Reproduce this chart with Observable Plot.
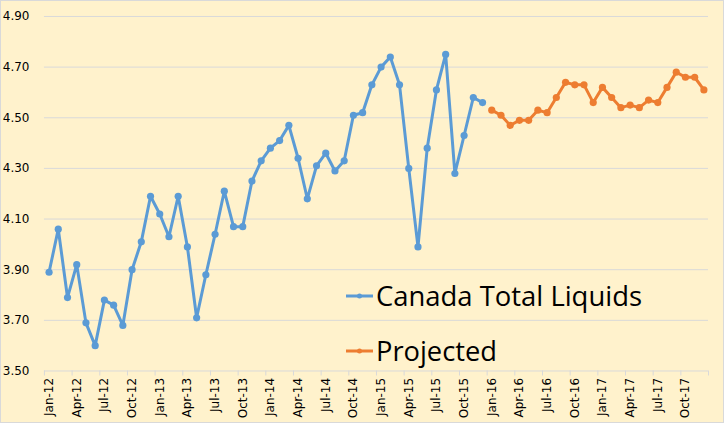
<!DOCTYPE html>
<html>
<head>
<meta charset="utf-8">
<script src="https://cdn.jsdelivr.net/npm/d3@7"></script>
<script src="https://cdn.jsdelivr.net/npm/@observablehq/plot@0.6"></script>
<style>
  html, body { margin: 0; padding: 0; background: #fff; }
  #wrap { position: relative; width: 724px; height: 423px; background: #FFF2CC; box-sizing: border-box; border: 1px solid #D9D9D9; overflow: hidden; }
  #chart { position: absolute; left: -1px; top: -1px; }
  #legend { position: absolute; left: -1px; top: -1px; pointer-events: none; }
</style>
</head>
<body>
<div id="wrap"><div id="chart"></div><svg id="legend" width="724" height="423"></svg></div>
<script>
// Month labels (one per month, Jan-12 .. Dec-17)
const monthNames = ["Jan","Feb","Mar","Apr","May","Jun","Jul","Aug","Sep","Oct","Nov","Dec"];
const years = ["12","13","14","15","16","17"];
// Tick labels shown on the axis (every third month)
const tickLabels = ["Jan-12","Apr-12","Jul-12","Oct-12","Jan-13","Apr-13","Jul-13","Oct-13",
  "Jan-14","Apr-14","Jul-14","Oct-14","Jan-15","Apr-15","Jul-15","Oct-15",
  "Jan-16","Apr-16","Jul-16","Oct-16","Jan-17","Apr-17","Jul-17","Oct-17"];
const yTicks = [3.5, 3.7, 3.9, 4.1, 4.3, 4.5, 4.7, 4.9];

// Canada Total Liquids (Jan-12 .. Dec-15), million b/d
const canada = [3.89, 4.06, 3.79, 3.92, 3.69, 3.60, 3.78, 3.76, 3.68, 3.90, 4.01, 4.19,
  4.12, 4.03, 4.19, 3.99, 3.71, 3.88, 4.04, 4.21, 4.07, 4.07, 4.25, 4.33,
  4.38, 4.41, 4.47, 4.34, 4.18, 4.31, 4.36, 4.29, 4.33, 4.51, 4.52, 4.63,
  4.70, 4.74, 4.63, 4.30, 3.99, 4.38, 4.61, 4.75, 4.28, 4.43, 4.58, 4.56];
// Projected (Jan-16 .. Dec-17)
const projected = [4.53, 4.51, 4.47, 4.49, 4.49, 4.53, 4.52, 4.58, 4.64, 4.63, 4.63, 4.56,
  4.62, 4.58, 4.54, 4.55, 4.54, 4.57, 4.56, 4.62, 4.68, 4.66, 4.66, 4.61];

const months = [];
years.forEach(y => monthNames.forEach(m => months.push(`${m}-${y}`)));

const canadaData = canada.map((v, i) => ({i: i + 0.5, label: months[i], v}));
const projData = projected.map((v, i) => ({i: canada.length + i + 0.5, label: months[canada.length + i], v}));
const tickData = tickLabels.map(l => ({i: months.indexOf(l) + 0.5, l}));
const boundaries = d3.range(0, months.length + 1, 3);

const blue = "#5B9BD5", orange = "#ED7D31", grid = "#D9D9D9";

const chart = Plot.plot({
  width: 724,
  height: 423,
  marginLeft: 44,
  marginRight: 15,
  marginTop: 16,
  marginBottom: 52,
  style: {background: "transparent", fontFamily: "DejaVu Sans, Verdana, sans-serif", fontSize: "12px", color: "#000"},
  x: {type: "linear", domain: [0, months.length]},
  y: {type: "linear", domain: [3.5, 4.9]},
  marks: [
    Plot.ruleY(yTicks, {stroke: grid, strokeWidth: 1, strokeOpacity: 1}),
    Plot.axisY({ticks: yTicks, tickFormat: d3.format(".2f"), tickSize: 0, tickPadding: 15, anchor: "left", fontSize: 12, fill: "#000", label: null}),
    Plot.axisX({ticks: boundaries, tickFormat: () => "", tickSize: 5, stroke: grid, strokeOpacity: 1, label: null, anchor: "bottom"}),
    Plot.text(tickData, {x: "i", y: () => 3.5, text: "l", rotate: -90, textAnchor: "end", dx: 0, dy: 7, fontSize: 12, fill: "#000"}),
    Plot.line(canadaData, {x: "i", y: "v", stroke: blue, strokeWidth: 3}),
    Plot.dot(canadaData, {x: "i", y: "v", fill: blue, r: 3.6}),
    Plot.line(projData, {x: "i", y: "v", stroke: orange, strokeWidth: 3}),
    Plot.dot(projData, {x: "i", y: "v", fill: orange, r: 3.6})
  ]
});
document.getElementById("chart").appendChild(chart);

// Legend
const legendItems = [
  {name: "Canada Total Liquids", color: blue, width: 266},
  {name: "Projected", color: orange, width: 121}
];
const lg = d3.select("#legend");
legendItems.forEach((d, k) => {
  const cy = 296 + k * 55;
  lg.append("line").attr("x1", 346).attr("x2", 373).attr("y1", cy).attr("y2", cy)
    .attr("stroke", d.color).attr("stroke-width", 3);
  lg.append("circle").attr("cx", 359.5).attr("cy", cy).attr("r", 2.5).attr("fill", d.color);
  lg.append("text").attr("x", 376).attr("y", cy + 10)
    .attr("font-family", "Open Sans, Liberation Sans, sans-serif").attr("font-size", 28)
    .attr("textLength", d.width).attr("lengthAdjust", "spacingAndGlyphs")
    .attr("fill", "#000").text(d.name);
});
</script>
</body>
</html>
